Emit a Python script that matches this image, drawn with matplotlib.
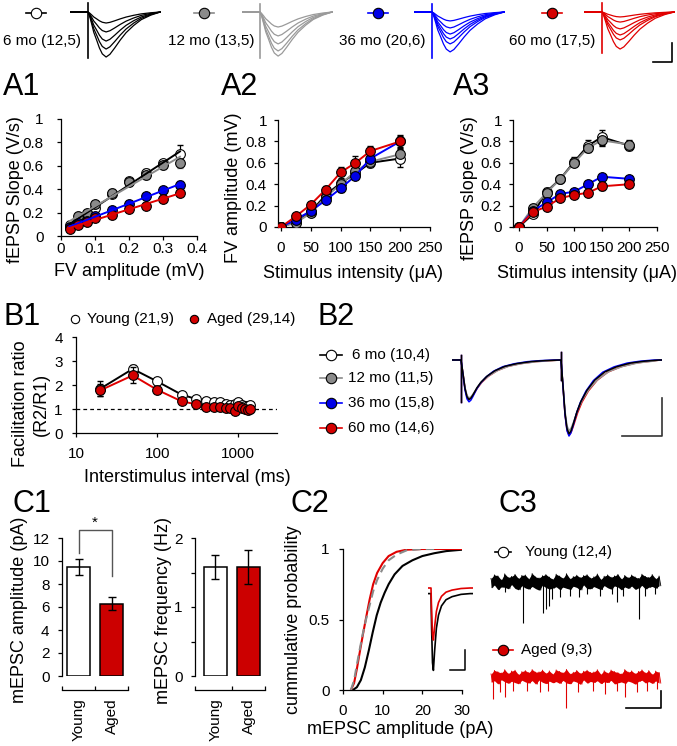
import numpy as np
import matplotlib
matplotlib.use("Agg")
import matplotlib.pyplot as plt
from matplotlib.lines import Line2D
from matplotlib.ticker import NullLocator

plt.rcParams["font.family"] = ["Liberation Sans", "DejaVu Sans"]
plt.rcParams["font.size"] = 11
plt.rcParams["axes.linewidth"] = 0.9
plt.rcParams["xtick.major.width"] = 0.9
plt.rcParams["ytick.major.width"] = 0.9
plt.rcParams["xtick.major.size"] = 3
plt.rcParams["ytick.major.size"] = 3

# ---------------- data ----------------
groups = ["6 mo", "12 mo", "36 mo", "60 mo"]
n_top = ["(12,5)", "(13,5)", "(20,6)", "(17,5)"]
n_b2 = ["(10,4)", "(11,5)", "(15,8)", "(14,6)"]
line_colors = ["#000000", "#8a8a8a", "#0000ff", "#e00000"]
face_colors = ["#ffffff", "#8a8a8a", "#0000e6", "#d40000"]
trace_colors = ["#000000", "#9a9a9a", "#0000ff", "#e00000"]

# top row fEPSP traces (ms after stimulus, normalised shape, peak amplitudes in mV)
fepsp_t = [0, 1, 2, 3, 4.5, 6, 7.5, 9.5, 11.5, 14, 17, 20, 24, 28, 33, 38]
fepsp_shape = [0, -0.12, -0.28, -0.45, -0.62, -0.8, -0.93, -1.0, -0.94, -0.8, -0.62, -0.46, -0.3, -0.17, -0.07, 0]
top_amps = [[0.58, 1.05, 1.53, 1.95, 2.37],
            [0.79, 1.26, 1.68, 2.05, 2.32],
            [0.47, 0.84, 1.16, 1.42, 1.68, 2.10],
            [0.26, 0.53, 0.89, 1.21, 1.47, 1.95]]
top_artifact = [(0.47, -2.4), (0.4, -2.4), (0.4, -2.4), (0.47, -2.15)]

# A1: input-output (fEPSP slope vs FV amplitude)
fv_amp = [0.025, 0.05, 0.075, 0.1, 0.15, 0.2, 0.25, 0.3, 0.35]
a1_slope = [[0.09, 0.14, 0.19, 0.24, 0.36, 0.47, 0.54, 0.62, 0.70],
            [0.08, 0.17, 0.20, 0.27, 0.37, 0.46, 0.52, 0.61, 0.62],
            [0.08, 0.11, 0.13, 0.17, 0.22, 0.27, 0.34, 0.39, 0.44],
            [0.06, 0.09, 0.12, 0.15, 0.18, 0.23, 0.26, 0.32, 0.37]]
a1_err = [[0.01, 0.01, 0.01, 0.02, 0.02, 0.02, 0.03, 0.03, 0.08],
          [0.01, 0.01, 0.02, 0.02, 0.03, 0.03, 0.03, 0.04, 0.04],
          [0.01, 0.01, 0.01, 0.01, 0.02, 0.02, 0.02, 0.02, 0.03],
          [0.01, 0.01, 0.01, 0.01, 0.01, 0.02, 0.02, 0.02, 0.02]]

# A2 / A3: stimulus intensity series
stim = [0, 25, 50, 75, 100, 125, 150, 200]
a2_fv = [[0, 0.05, 0.14, 0.30, 0.41, 0.50, 0.60, 0.64],
         [0, 0.04, 0.13, 0.28, 0.40, 0.52, 0.61, 0.68],
         [0, 0.07, 0.15, 0.25, 0.36, 0.48, 0.64, 0.80],
         [0, 0.10, 0.21, 0.35, 0.51, 0.60, 0.71, 0.80]]
a2_err = [[0, 0.01, 0.02, 0.02, 0.03, 0.04, 0.04, 0.08],
          [0, 0.01, 0.02, 0.02, 0.03, 0.04, 0.04, 0.05],
          [0, 0.01, 0.02, 0.02, 0.03, 0.03, 0.04, 0.05],
          [0, 0.02, 0.02, 0.03, 0.05, 0.06, 0.05, 0.06]]
a3_slope = [[0, 0.12, 0.33, 0.45, 0.61, 0.76, 0.84, 0.76],
            [0, 0.18, 0.32, 0.45, 0.60, 0.74, 0.81, 0.77],
            [0, 0.15, 0.23, 0.31, 0.33, 0.40, 0.47, 0.45],
            [0, 0.14, 0.19, 0.27, 0.30, 0.32, 0.38, 0.40]]
a3_err = [[0, 0.02, 0.03, 0.03, 0.04, 0.05, 0.07, 0.04],
          [0, 0.02, 0.03, 0.03, 0.03, 0.04, 0.05, 0.04],
          [0, 0.01, 0.02, 0.02, 0.02, 0.03, 0.03, 0.03],
          [0, 0.01, 0.02, 0.02, 0.02, 0.02, 0.03, 0.03]]

# B1: paired-pulse facilitation
isi = [20, 50, 100, 200, 300, 400, 500, 600, 700, 800, 900, 1000, 1100, 1200, 1300, 1400]
ppf_young = [1.85, 2.67, 2.15, 1.60, 1.42, 1.32, 1.29, 1.28, 1.22, 1.18, 1.22, 1.29, 1.18, 1.14, 1.14, 1.17]
ppf_young_err = [0.3, 0.15, 0.1, 0.08, 0.07, 0.06, 0.06, 0.06, 0.06, 0.06, 0.06, 0.06, 0.05, 0.05, 0.05, 0.05]
ppf_aged = [1.78, 2.40, 1.80, 1.32, 1.20, 1.08, 1.07, 1.10, 1.04, 1.04, 0.93, 1.14, 1.04, 1.00, 0.97, 1.00]
ppf_aged_err = [0.25, 0.33, 0.12, 0.08, 0.07, 0.06, 0.06, 0.06, 0.06, 0.06, 0.06, 0.06, 0.05, 0.05, 0.05, 0.05]

# B2: paired EPSC traces (ms after each stimulus, normalised shape)
psc_t = [0, 1, 2, 3, 4, 5, 6, 8, 10, 13, 17, 22, 28, 35, 42, 49.5]
psc_shape = [0, -0.35, -0.72, -0.93, -1.0, -0.96, -0.88, -0.7, -0.56, -0.41, -0.27, -0.16, -0.09, -0.04, -0.015, 0]
pp_interval = 50
b2_r1 = [0.52, 0.50, 0.55, 0.52]
b2_r2 = [0.97, 0.93, 1.00, 0.99]
b2_decay = [1.0, 1.12, 0.94, 1.08]
b2_order = [3, 1, 2, 0]

# C1: mEPSC bars
ages = ["Young", "Aged"]
mepsc_amp = [9.5, 6.3]
mepsc_amp_err = [0.7, 0.6]
mepsc_freq = [1.58, 1.58]
mepsc_freq_err = [0.18, 0.24]
bar_colors = ["#ffffff", "#cc0000"]

# C2: cumulative amplitude distributions (pA, probability)
cum_young_x = [2.5, 3.5, 4.5, 5.5, 6.5, 7.5, 8.5, 9.5, 10.5, 11.5, 13, 15, 17.5, 20, 23, 26, 30]
cum_young_y = [0, 0.02, 0.07, 0.16, 0.28, 0.41, 0.53, 0.62, 0.69, 0.75, 0.82, 0.88, 0.92, 0.95, 0.97, 0.985, 0.995]
cum_aged_x = [2.0, 2.8, 3.5, 4.3, 5.0, 5.8, 6.7, 7.6, 8.6, 10, 11.5, 13.5, 16, 20, 30]
cum_aged_y = [0, 0.05, 0.15, 0.28, 0.39, 0.51, 0.64, 0.75, 0.83, 0.90, 0.95, 0.98, 0.995, 1.0, 1.0]
cum_scaled_x = [2.0, 2.8, 3.5, 4.3, 5.0, 5.8, 6.7, 7.6, 8.6, 10, 11.5, 13.5, 16, 20, 24]
cum_scaled_y = [0, 0.07, 0.18, 0.30, 0.40, 0.50, 0.60, 0.70, 0.78, 0.86, 0.92, 0.96, 0.99, 1.0, 1.0]
# inset: average mEPSC (ms, normalised shape)
mepsc_t = [0, 0.2, 0.5, 0.8, 1.2, 1.8, 2.5, 3.5, 5, 7, 10, 13]
mepsc_shape = [0, -0.45, -0.9, -1.0, -0.75, -0.45, -0.28, -0.16, -0.08, -0.04, -0.01, 0]
inset_amp = [9.6, 6.5]
inset_base = [-0.7, 0.0]

# C3: example mEPSC recordings (pA); noise alternates upper / lower excursions
noise_dt = 24.5
young_noise = [2.1, -3.4, 4.2, -1.8, 3.6, -4.5, 1.2, -2.9, 4.8, -3.1, 2.7, -4.0, 3.3, -1.5, 4.5, -3.8, 2.0, -4.6, 3.9, -2.2,
               4.1, -3.5, 1.8, -4.2, 5.0, -2.6, 3.0, -3.9, 2.4, -4.8, 3.7, -1.9, 4.4, -3.3, 2.9, -4.1, 1.6, -3.6, 4.6, -2.8,
               3.5, -4.4, 2.2, -3.0, 4.9, -3.7, 1.9, -4.3, 3.2, -2.5, 4.0, -3.2, 2.6, -4.7, 3.8, -1.7, 4.3, -3.9, 2.3, -4.0,
               3.1, -2.7, 4.7, -3.6, 1.5, -4.5, 3.4, -2.1, 4.2, -3.4, 2.8, -4.2, 3.6, -2.3, 4.5, -3.0, 1.7, -4.6, 3.9, -2.9,
               2.5, -3.8, 4.1, -2.4, 3.0, -4.3, 2.1, -3.5, 4.6, -2.0, 3.3, -4.1, 2.7, -3.1, 4.4, -2.6, 1.9, -3.7, 3.5, -2.2]
aged_noise = [1.8, -3.0, 3.9, -2.2, 3.1, -4.1, 2.4, -1.6, 4.3, -2.8, 2.0, -3.7, 3.5, -2.5, 4.0, -3.3, 1.4, -4.0, 3.2, -1.9,
              3.8, -2.9, 2.6, -3.6, 4.4, -2.1, 2.9, -4.2, 3.0, -1.8, 4.1, -3.1, 2.2, -3.9, 3.6, -2.4, 1.7, -3.4, 4.2, -2.7,
              3.3, -3.8, 2.5, -2.0, 4.5, -3.5, 1.9, -4.0, 2.8, -2.3, 3.9, -3.0, 2.1, -4.3, 3.4, -1.7, 4.0, -3.6, 2.7, -2.6,
              3.0, -3.2, 4.3, -2.2, 1.6, -3.9, 3.7, -2.8, 2.3, -3.3, 4.1, -2.0, 3.2, -4.1, 2.6, -3.4, 1.8, -2.9, 4.4, -3.7,
              2.9, -2.4, 3.6, -3.1, 2.0, -4.2, 3.3, -2.6, 4.2, -1.9, 2.4, -3.5, 3.8, -2.7, 1.5, -3.8, 3.5, -2.3, 2.7, -3.6]
young_ev_t = [200, 457, 743, 786, 829, 871, 986, 1129, 1257, 1371, 1557, 1729, 1800, 1886, 2114, 2200, 2343]
young_ev_amp = [6, 24, 18, 16, 14, 10, 9, 8, 9, 7, 8, 7, 12, 8, 22, 8, 7]
aged_ev_t = [29, 129, 200, 314, 514, 700, 814, 1071, 1243, 1457, 1629, 1800, 1914, 2086, 2229, 2371]
aged_ev_amp = [13, 9, 12, 8, 8, 9, 8, 18, 9, 8, 10, 8, 12, 9, 8, 7]

# ---------------- figure ----------------
W, H = 677, 746
fig = plt.figure(figsize=(W / 100, H / 100), dpi=100)
fig.patch.set_facecolor("white")


def px_axes(left, top, right, bottom):
    return fig.add_axes((left / W, 1 - bottom / H, (right - left) / W, (bottom - top) / H))


def fig_text(x, y, s, **kw):
    return fig.text(x / W, 1 - y / H, s, **kw)


def legend_symbol(x, y, face, edge, half=10, ms=7.5):
    if half:
        fig.add_artist(Line2D([(x - half) / W, (x + half) / W], [1 - y / H] * 2, color=edge, lw=1.2))
    fig.add_artist(Line2D([x / W], [1 - y / H], marker="o", ms=ms, mfc=face, mec="black", mew=0.8, lw=0))


def style(ax, xpad=7, ypad=5):
    ax.spines["top"].set_visible(False)
    ax.spines["right"].set_visible(False)
    ax.tick_params(axis="x", pad=xpad)
    ax.tick_params(axis="y", pad=ypad)
    ax.set_facecolor("none")


def panel(x, y, s):
    fig_text(x, y, s, fontsize=22, va="baseline", ha="left")


# ---- top row traces ----
stim_x = [88, 260, 432, 602]
marker_x = [36, 204, 378, 552]
label_x = [42, 211, 382, 552]
for i in range(4):
    legend_symbol(marker_x[i], 13, face_colors[i], line_colors[i])
    fig_text(label_x[i], 41, f"{groups[i]} {n_top[i]}", ha="center", va="center")
    ax = px_axes(stim_x[i] - 18, 0, stim_x[i] + 73, 80)
    ax.set_xlim(-9.5, 38.4)
    ax.set_ylim(-68 / 19, 12 / 19)
    ax.axis("off")
    for a in top_amps[i]:
        ax.plot([-9.5] + fepsp_t, [0] + [a * s for s in fepsp_shape], color=trace_colors[i], lw=0.9)
    ax.plot([0, 0], top_artifact[i], color=trace_colors[i], lw=1.2)
    if i == 3:
        # scale bar: 10 ms, 1 mV
        ax.plot([26.8, 36.8, 36.8], [-2.63, -2.63, -1.63], color="black", lw=1.2, clip_on=False)

# ---- A1 ----
panel(3, 95, "A1")
ax = px_axes(61, 119, 197, 236)
for i in range(4):
    ax.errorbar(fv_amp, a1_slope[i], yerr=a1_err[i], fmt="none", ecolor=line_colors[i] if i else "black",
                elinewidth=0.9, capsize=2.5, zorder=2)
    ax.plot(fv_amp, a1_slope[i], "o", ms=7, mfc=face_colors[i], mec="black", mew=0.8, zorder=3 + i)
for i in range(4):
    k, b = np.polyfit(fv_amp, a1_slope[i], 1)
    xs = np.array([fv_amp[0], fv_amp[-1]])
    ax.plot(xs, k * xs + b, color=line_colors[i], lw=1.4, zorder=8)
ax.set_xlim(0, 0.4)
ax.set_ylim(0, 1)
ax.set_xticks([0, 0.1, 0.2, 0.3, 0.4], ["0", "0.1", "0.2", "0.3", "0.4"])
ax.set_yticks([0, 0.2, 0.4, 0.6, 0.8, 1], ["0", "0.2", "0.4", "0.6", "0.8", "1"])
style(ax, xpad=1.5, ypad=9.5)
fig_text(16, 190, "fEPSP Slope (V/s)", rotation=90, ha="center", va="center", fontsize=13)
fig_text(129, 272, "FV amplitude (mV)", ha="center", va="center", fontsize=13)

# ---- A2 / A3 ----
panel(221, 95, "A2")
panel(453, 95, "A3")
for (x0, x1, xmin, series, errs, ylab, ylx, xlx) in [
        (278, 430, -5, a2_fv, a2_err, "FV amplitude (mV)", 233, 353),
        (513, 657, -10.8, a3_slope, a3_err, "fEPSP slope (V/s)", 470, 587)]:
    ax = px_axes(x0, 120, x1, 227)
    for i in range(4):
        ax.errorbar(stim, series[i], yerr=errs[i], fmt="none", ecolor="black", elinewidth=0.9, capsize=2.5, zorder=2)
        ax.plot(stim, series[i], "-", color=line_colors[i], lw=1.4, zorder=3 + 2 * i)
        ax.plot(stim, series[i], "o", ms=7, mfc=face_colors[i], mec="black", mew=0.8, zorder=4 + 2 * i)
    ax.set_xlim(xmin, 250)
    ax.set_ylim(0, 1)
    ax.set_xticks([0, 50, 100, 150, 200, 250])
    ax.set_yticks([0, 0.2, 0.4, 0.6, 0.8, 1], ["0", "0.2", "0.4", "0.6", "0.8", "1"])
    style(ax, xpad=7, ypad=5)
    fig_text(ylx, 188, ylab, rotation=90, ha="center", va="center", fontsize=13)
    fig_text(xlx, 273, "Stimulus intensity (\u03bcA)", ha="center", va="center", fontsize=13)

# ---- B1 ----
panel(3, 325, "B1")
legend_symbol(75, 319, "white", "black", half=0, ms=6)
fig_text(87, 319, "Young (21,9)", va="center")
legend_symbol(194, 319, "#d40000", "#d40000", half=0, ms=6)
fig_text(207, 319, "Aged (29,14)", va="center")
ax = px_axes(76, 337, 277, 433)
ax.axhline(1, color="black", lw=0.9, ls=(0, (3, 2.5)), zorder=1)
ax.errorbar(isi, ppf_young, yerr=ppf_young_err, fmt="none", ecolor="black", elinewidth=0.9, capsize=2.5, zorder=2)
ax.plot(isi, ppf_young, "-", color="black", lw=1.4, zorder=3)
ax.plot(isi, ppf_young, "o", ms=7, mfc="white", mec="black", mew=0.8, zorder=4)
ax.errorbar(isi, ppf_aged, yerr=ppf_aged_err, fmt="none", ecolor="black", elinewidth=0.9, capsize=2.5, zorder=5)
ax.plot(isi, ppf_aged, "-", color="#e00000", lw=1.4, zorder=6)
ax.plot(isi, ppf_aged, "o", ms=7, mfc="#d40000", mec="black", mew=0.8, zorder=7)
ax.set_xscale("log")
ax.set_xlim(10, 3000)
ax.set_ylim(0, 4)
ax.set_xticks([10, 100, 1000], ["10", "100", "1000"])
ax.xaxis.set_minor_locator(NullLocator())
ax.set_yticks([0, 1, 2, 3, 4])
style(ax, xpad=7, ypad=6.5)
fig_text(31, 404, "Facilitation ratio\n(R2/R1)", rotation=90, ha="center", va="center", fontsize=13,
         linespacing=1.25)
fig_text(187, 478, "Interstimulus interval (ms)", ha="center", va="center", fontsize=13)

# ---- B2 ----
panel(318, 325, "B2")
b2_y = [355, 378, 403, 428]
for i in range(4):
    legend_symbol(331, b2_y[i], face_colors[i], line_colors[i], half=11)
    fig_text(352 if i == 0 else 348, b2_y[i], f"{groups[i]} {n_b2[i]}", va="center")
ax = px_axes(452, 340, 662, 445)
ax.set_xlim(-4.5, 100.5)
ax.set_ylim(-85 / 76, 20 / 76)
ax.axis("off")
for i in b2_order:
    # decay of each response stretched per group; rising phase unchanged
    t_one = [min(t if t <= 4 else 4 + (t - 4) * b2_decay[i], 49.5) for t in psc_t]
    ts = [-4.5] + t_one + [pp_interval + t for t in t_one] + [100.5]
    vs = [0] + [b2_r1[i] * s for s in psc_shape] + [b2_r2[i] * s for s in psc_shape] + [0]
    ax.plot(ts, vs, color=trace_colors[i], lw=1.1)
    ax.plot([0, 0], [0.07, -0.55], color=trace_colors[i], lw=1.0)
    ax.plot([pp_interval] * 2, [0.1, -0.26], color=trace_colors[i], lw=1.0)
# scale bar
ax.plot([80.5, 100.5, 100.5], [-1.0, -1.0, -0.5], color="#333333", lw=1.2, clip_on=False)

# ---- C1 ----
panel(13, 512, "C1")
for (x0, x1, xmin, means, errs, ylim, yticks, ylabels, ylab, ylx) in [
        (62, 128, -0.5, mepsc_amp, mepsc_amp_err, 12, [0, 2, 4, 6, 8, 10, 12], None, "mEPSC amplitude (pA)", 20),
        (195, 265, -0.62, mepsc_freq, mepsc_freq_err, 2, [0, 0.5, 1, 1.5, 2], ["0", "", "1", "", "2"],
         "mEPSC frequency (Hz)", 163)]:
    ax = px_axes(x0, 538, x1, 676)
    ax.bar([0, 1], means, width=0.67, color=bar_colors, edgecolor="black", linewidth=1.1, zorder=2)
    ax.errorbar([0, 1], means, yerr=errs, fmt="none", ecolor="black", elinewidth=1, capsize=3, zorder=3)
    ax.set_xlim(xmin, 1.5)
    ax.set_ylim(0, ylim)
    ax.set_yticks(yticks)
    if ylabels:
        ax.set_yticklabels(ylabels)
    ax.spines["bottom"].set_position(("outward", 10))
    ax.set_xticks([xmin, 0.5, 1.5], ["", "", ""])
    ax.tick_params(axis="x", which="major", direction="in", length=3)
    ax.set_xticks([0, 1], ages, minor=True)
    ax.tick_params(axis="x", which="minor", length=0, labelrotation=90)
    style(ax, xpad=6, ypad=6)
    ax.tick_params(axis="x", which="minor", pad=6)
    fig_text(ylx, 610, ylab, rotation=90, ha="center", va="center", fontsize=13)
    if ylim == 12:
        ax.plot([0, 0, 1, 1], [10.7, 12.7, 12.7, 8.7], color="#555555", lw=1, clip_on=False)
        ax.text(0.5, 12.75, "*", ha="center", va="bottom", fontsize=11)

# ---- C2 ----
panel(290, 512, "C2")
ax = px_axes(343, 549, 462, 690)
ax.plot(cum_young_x, cum_young_y, color="black", lw=1.5, zorder=3)
ax.plot(cum_aged_x, cum_aged_y, color="#e00000", lw=1.5, zorder=4)
ax.plot(cum_scaled_x, cum_scaled_y, color="#8a8a8a", lw=1.5, ls=(0, (4, 2.5)), zorder=5)
ax.set_xlim(0, 30)
ax.set_ylim(0, 1)
ax.set_xticks([0, 10, 20, 30])
ax.set_yticks([0, 0.5, 1], ["0", "0.5", "1"])
style(ax, xpad=7, ypad=6.5)
fig_text(293, 620, "cummulative probability", rotation=90, ha="center", va="center", fontsize=13)
fig_text(400, 729, "mEPSC amplitude (pA)", ha="center", va="center", fontsize=13)
# inset average mEPSCs
ax = px_axes(428, 575, 473, 680)
ax.set_xlim(-1, 14)
ax.set_ylim(-92 / 8, 13 / 8)
ax.axis("off")
for amp, base, col in zip(inset_amp, inset_base, ["black", "#e00000"]):
    ax.plot([-1] + mepsc_t + [14], [base] + [base + amp * s for s in mepsc_shape] + [base], color=col, lw=1.2)
ax.plot([6.3, 11.3, 11.3], [-10.25, -10.25, -7.75], color="black", lw=1.1)

# ---- C3 ----
panel(498, 512, "C3")
legend_symbol(503, 552, "white", "black", half=8)
fig_text(525, 552, "Young (12,4)", va="center")
legend_symbol(503, 650, "#d40000", "#e00000", half=10)
fig_text(521, 650, "Aged (9,3)", va="center")
for (top, bottom, base_y, noise, ev_t, ev_amp, col) in [
        (560, 630, 582, young_noise, young_ev_t, young_ev_amp, "black"),
        (655, 715, 677, aged_noise, aged_ev_t, aged_ev_amp, "#e00000")]:
    ax = px_axes(488, top, 665, bottom)
    ax.set_xlim(-3 / 0.07, 174 / 0.07)
    ax.set_ylim(-(bottom - base_y) / 1.7, (base_y - top) / 1.7)
    ax.axis("off")
    noise = np.array(noise)
    t_noise = np.arange(len(noise)) * noise_dt
    # recording band: upper and lower noise excursions
    ax.fill_between(t_noise[0::2], noise[1::2], noise[0::2], color=col, lw=0)
    ax.plot(t_noise, noise, color=col, lw=0.6)
    # miniature events
    ax.vlines(ev_t, 0, -np.array(ev_amp, dtype=float), color=col, lw=0.8)
    if col != "black":
        # scale bar: 500 ms, 10 pA
        ax.plot([1929, 2429, 2429], [-18.2, -18.2, -8.2], color="black", lw=1.2, clip_on=False)

fig.savefig("out.png", dpi=100, facecolor="white")
